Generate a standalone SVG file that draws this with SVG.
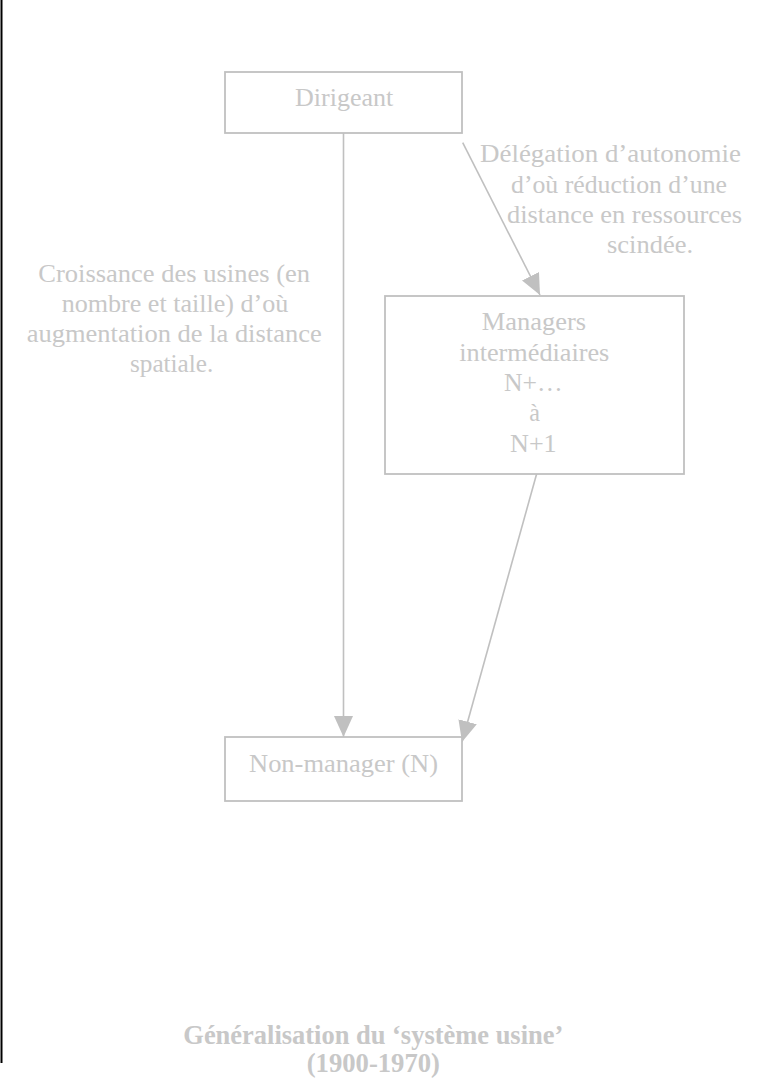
<svg xmlns="http://www.w3.org/2000/svg" width="765" height="1080" viewBox="0 0 765 1080">
<style>
.box{fill:#ffffff;stroke:#c0c0c0;stroke-width:1.8}
.t{font-family:"Liberation Serif","Times New Roman",serif;font-size:26px;fill:#c8c8c8}
.b{font-weight:bold;font-size:27px}
.c{stroke:#c0c0c0;stroke-width:1.6;fill:none}
</style>
<defs>
<marker id="ah" viewBox="0 0 21 19" refX="21" refY="9.5" markerWidth="21" markerHeight="19" markerUnits="userSpaceOnUse" orient="auto">
<path d="M0,0 L21,9.5 L0,19 z" fill="#c0c0c0"/>
</marker>
</defs>
<rect width="765" height="1080" fill="#ffffff"/>
<line x1="1.5" y1="0" x2="1.5" y2="1063" stroke="#000000" stroke-width="2"/>
<g id="connectors">
<line class="c" x1="343.5" y1="133" x2="343.5" y2="737" marker-end="url(#ah)"/>
<line class="c" x1="462.7" y1="142.7" x2="540" y2="295" marker-end="url(#ah)"/>
<line class="c" x1="538" y1="469" x2="462" y2="742" marker-end="url(#ah)"/>
</g>
<g id="dirigeant">
<rect class="box" x="225" y="72" width="237" height="61"/>
<text class="t" x="295" y="105.7" textLength="98.3" lengthAdjust="spacingAndGlyphs">Dirigeant</text>
</g>
<g id="managers">
<rect class="box" x="385" y="296" width="299" height="178"/>
<text class="t" x="481.7" y="330" textLength="104.3" lengthAdjust="spacingAndGlyphs">Managers</text>
<text class="t" x="459.3" y="360.5" textLength="150" lengthAdjust="spacingAndGlyphs">intermédiaires</text>
<text class="t" x="504" y="391" textLength="58.7" lengthAdjust="spacingAndGlyphs">N+…</text>
<text class="t" x="529.3" y="421" textLength="10.7" lengthAdjust="spacingAndGlyphs">à</text>
<text class="t" x="510" y="452" textLength="46.7" lengthAdjust="spacingAndGlyphs">N+1</text>
</g>
<g id="nonmanager">
<rect class="box" x="225" y="737" width="237" height="64"/>
<text class="t" x="249" y="772" textLength="189" lengthAdjust="spacingAndGlyphs">Non-manager (N)</text>
</g>
<g id="label-delegation">
<text class="t" x="480" y="162.3" textLength="261" lengthAdjust="spacingAndGlyphs">Délégation d’autonomie</text>
<text class="t" x="511" y="192.5" textLength="216" lengthAdjust="spacingAndGlyphs">d’où réduction d’une</text>
<text class="t" x="507" y="222.7" textLength="235" lengthAdjust="spacingAndGlyphs">distance en ressources</text>
<text class="t" x="607" y="252.7" textLength="86" lengthAdjust="spacingAndGlyphs">scindée.</text>
</g>
<g id="label-croissance">
<text class="t" x="38.3" y="281.7" textLength="271.7" lengthAdjust="spacingAndGlyphs">Croissance des usines (en</text>
<text class="t" x="61.7" y="311.7" textLength="226.6" lengthAdjust="spacingAndGlyphs">nombre et taille) d’où</text>
<text class="t" x="26.7" y="341.7" textLength="295" lengthAdjust="spacingAndGlyphs">augmentation de la distance</text>
<text class="t" x="130" y="371.7" textLength="83.3" lengthAdjust="spacingAndGlyphs">spatiale.</text>
</g>
<g id="title">
<text class="t b" x="183.3" y="1044" textLength="380" lengthAdjust="spacingAndGlyphs">Généralisation du ‘système usine’</text>
<text class="t b" x="306.7" y="1071.5" textLength="133.3" lengthAdjust="spacingAndGlyphs">(1900-1970)</text>
</g>
</svg>
